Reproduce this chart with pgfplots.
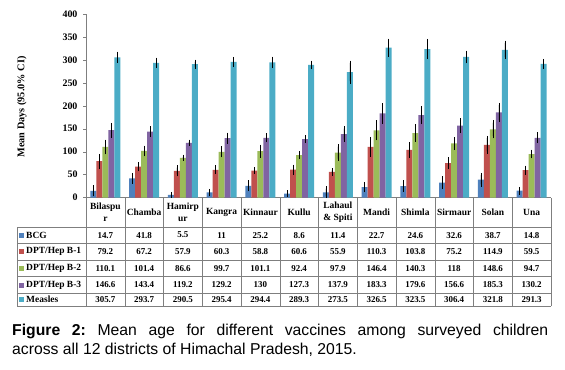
\documentclass[border=0pt]{standalone}
\usepackage{pgfplots}
\pgfplotsset{compat=1.18}
\usepackage{pgfplotstable}
\usepackage{fontspec}
\setmainfont{Liberation Serif}
\newfontfamily\arial{Liberation Sans}
\definecolor{cBCG}{HTML}{4F81BD}
\definecolor{cDa}{HTML}{C0504D}
\definecolor{cDb}{HTML}{9BBB59}
\definecolor{cDc}{HTML}{8064A2}
\definecolor{cM}{HTML}{4BACC6}
\definecolor{linec}{HTML}{7F7F7F}
\pgfplotstableread{
x bcg ebcg da eda db edb dc edc m em
0 14.7 7 79.2 11 110.1 11 146.6 11 305.7 7
1 41.8 7 67.2 5 101.4 6.5 143.4 7 293.7 6
2 5.5 1 57.9 7 86.6 2 119.2 2 290.5 5
3 11 3 60.3 4.5 99.7 7 129.2 7 295.4 6
4 25.2 7 58.8 2.5 101.1 9 130 5 294.4 7.5
5 8.6 2 60.6 6 92.4 3.5 127.3 3.5 289.3 4
6 11.4 8 55.9 3 97.9 13 137.9 12 273.5 20
7 22.7 6.5 110.3 17 146.4 17 183.3 17 326.5 15
8 24.6 8 103.8 12 140.3 14 179.6 15 323.5 17
9 32.6 9 75.2 7.5 118 8.5 156.6 11 306.4 9
10 38.7 10 114.9 14.5 148.6 14.5 185.3 16 321.8 15
11 14.8 3.5 59.5 5 94.7 4.5 130.2 6.5 291.3 6
}\data
\newcommand\tabfont{\fontsize{9}{10.5}\selectfont\bfseries}
\newcommand\labfont{\fontsize{9.5}{11.5}\selectfont\bfseries}
\newcommand\rowlab[3]{%
  \fill[#2] (18.5,#3-2.5) rectangle +(5,5);
  \node[font=\labfont, anchor=west, inner sep=0pt] at (26,#3) {#1};}
\begin{document}
\frenchspacing
\begin{tikzpicture}[x=1bp,y=1bp]
\useasboundingbox (0,0) rectangle (565,369);
\begin{axis}[
  at={(86bp,171.5bp)}, anchor=south west,
  scale only axis, width=465bp, height=183.5bp,
  xmin=-0.5, xmax=11.5, ymin=0, ymax=400,
  ybar=0pt, bar width=6bp,
  axis x line*=bottom, axis y line*=left,
  axis line style={draw=linec, -},
  xtick=\empty,
  ytick={0,50,...,400},
  tick align=outside, major tick length=3bp,
  tick style={draw=linec},
  /pgf/number format/assume math mode=true,
  yticklabel style={font=\fontsize{10}{11}\selectfont\bfseries, xshift=-2bp},
  clip=false,
  error bars/y dir=both, error bars/y explicit,
  error bars/error mark=-,
  error bars/error bar style={black, line width=0.6pt},
  error bars/error mark options={black, line width=0.6pt, mark size=2.3bp},
]
\addplot[fill=cBCG, draw=none] table[x=x, y=bcg, y error=ebcg]{\data};
\addplot[fill=cDa, draw=none] table[x=x, y=da, y error=eda]{\data};
\addplot[fill=cDb, draw=none] table[x=x, y=db, y error=edb]{\data};
\addplot[fill=cDc, draw=none] table[x=x, y=dc, y error=edc]{\data};
\addplot[fill=cM, draw=none] table[x=x, y=m, y error=em]{\data};
\end{axis}
% y label
\node[rotate=90, font=\fontsize{10.3}{12}\selectfont\bfseries] at (22,262) {Mean Days (95.0\% CI)};
% table grid
\foreach \k in {0,...,12} \draw[linec, line width=0.5pt] ({86+38.75*\k},63) -- ({86+38.75*\k},171.5);
\draw[linec, line width=0.5pt] (17,63) -- (17,142);
\foreach \yy in {142,125.7,109,92.3,75.7,63} \draw[linec, line width=0.5pt] (17,\yy) -- (551,\yy);
% header
\foreach \n [count=\k from 0] in {{Bilaspu\\r},{Chamba},{Hamirp\\ur},{Kangra},{Kinnaur},{Kullu},{Lahaul\\\& Spiti},{Mandi},{Shimla},{Sirmaur},{Solan},{Una}}
  \node[font=\labfont, align=center, inner sep=0pt] at ({86+38.75*(\k+0.5)},156.8) {\n};
% row labels and keys
\rowlab{BCG}{cBCG}{133.9}
\rowlab{DPT/Hep B-1}{cDa}{117.4}
\rowlab{DPT/Hep B-2}{cDb}{100.7}
\rowlab{DPT/Hep B-3}{cDc}{84}
\rowlab{Measles}{cM}{69.4}
\foreach \v [count=\k from 0] in {14.7,41.8,5.5,11,25.2,8.6,11.4,22.7,24.6,32.6,38.7,14.8}
  \node[font=\tabfont, inner sep=0pt] at ({86+38.75*(\k+0.5)},133.9) {\v};
\foreach \v [count=\k from 0] in {79.2,67.2,57.9,60.3,58.8,60.6,55.9,110.3,103.8,75.2,114.9,59.5}
  \node[font=\tabfont, inner sep=0pt] at ({86+38.75*(\k+0.5)},117.4) {\v};
\foreach \v [count=\k from 0] in {110.1,101.4,86.6,99.7,101.1,92.4,97.9,146.4,140.3,118,148.6,94.7}
  \node[font=\tabfont, inner sep=0pt] at ({86+38.75*(\k+0.5)},100.7) {\v};
\foreach \v [count=\k from 0] in {146.6,143.4,119.2,129.2,130,127.3,137.9,183.3,179.6,156.6,185.3,130.2}
  \node[font=\tabfont, inner sep=0pt] at ({86+38.75*(\k+0.5)},84) {\v};
\foreach \v [count=\k from 0] in {305.7,293.7,290.5,295.4,294.4,289.3,273.5,326.5,323.5,306.4,321.8,291.3}
  \node[font=\tabfont, inner sep=0pt] at ({86+38.75*(\k+0.5)},69.4) {\v};
% caption
\node[anchor=north west, inner sep=0pt, text width=536bp, align=justify,
      font=\arial\fontsize{15.8}{19.4}\selectfont] at (12,45)
  {\frenchspacing\textbf{Figure 2:} Mean age for different vaccines among surveyed children\linebreak across all 12 districts of Himachal Pradesh, 2015.};
\end{tikzpicture}
\end{document}
